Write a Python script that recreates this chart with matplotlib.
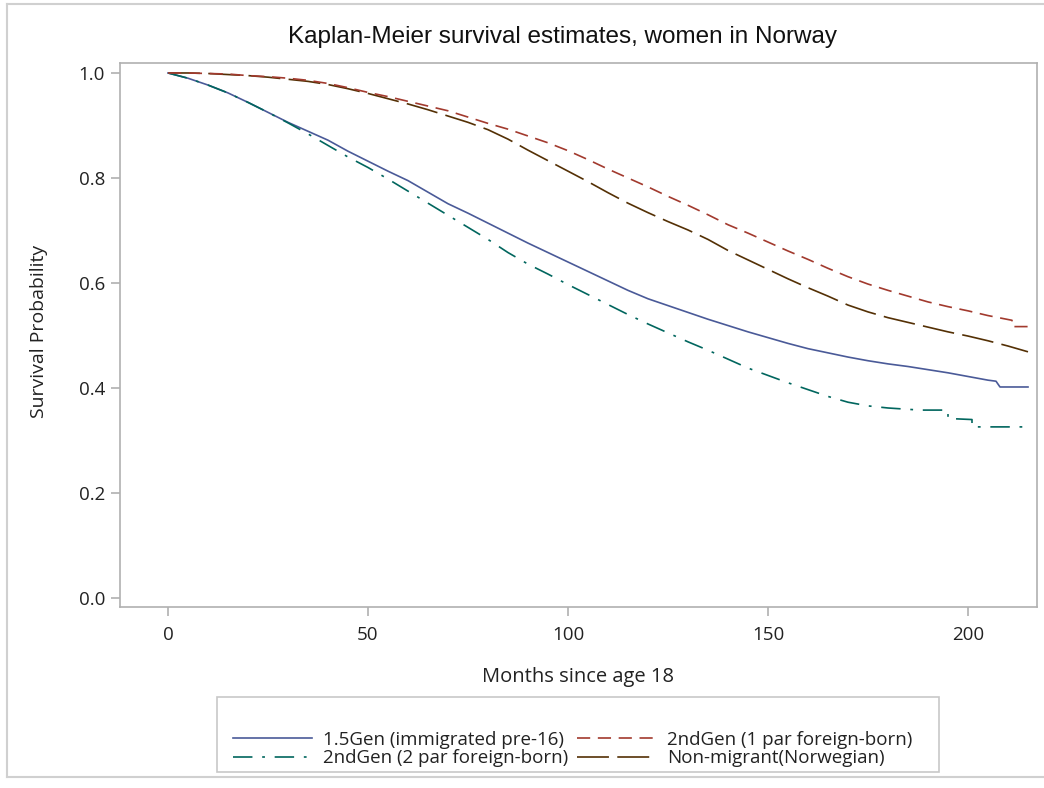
import matplotlib
matplotlib.use("Agg")
import matplotlib.pyplot as plt
from matplotlib.lines import Line2D
from matplotlib.patches import Rectangle

# Kaplan-Meier estimates (months, survival)
months_gen15 = [0, 5, 10, 15, 20, 25, 30, 35, 40, 45, 50, 55, 60, 65, 70, 75, 80,
                85, 90, 95, 100, 105, 110, 115, 120, 125, 130, 135, 140, 145, 150,
                155, 160, 165, 170, 175, 180, 185, 190, 195, 200, 205, 207, 208, 215]
surv_gen15 = [1.000, 0.990, 0.977, 0.962, 0.944, 0.925, 0.906, 0.889, 0.872, 0.851,
              0.832, 0.813, 0.795, 0.773, 0.751, 0.733, 0.714, 0.695, 0.676, 0.658,
              0.640, 0.622, 0.604, 0.586, 0.570, 0.557, 0.544, 0.531, 0.519, 0.507,
              0.496, 0.485, 0.475, 0.467, 0.459, 0.452, 0.446, 0.441, 0.435, 0.429,
              0.422, 0.415, 0.413, 0.402, 0.402]

months_gen2_one = [0, 5, 10, 15, 20, 25, 30, 35, 40, 45, 50, 55, 60, 65, 70, 75, 80,
                   85, 90, 95, 100, 105, 110, 115, 120, 125, 130, 135, 140, 145, 150,
                   155, 160, 165, 170, 175, 180, 185, 190, 195, 200, 205, 211, 211, 215]
surv_gen2_one = [1.000, 1.000, 0.999, 0.998, 0.995, 0.993, 0.990, 0.986, 0.980, 0.972,
                 0.963, 0.955, 0.946, 0.937, 0.928, 0.916, 0.904, 0.893, 0.880, 0.867,
                 0.852, 0.835, 0.817, 0.800, 0.783, 0.765, 0.748, 0.730, 0.711, 0.695,
                 0.678, 0.661, 0.645, 0.628, 0.612, 0.598, 0.586, 0.575, 0.564, 0.555,
                 0.547, 0.538, 0.529, 0.517, 0.517]

months_gen2_two = [0, 5, 10, 15, 20, 25, 30, 35, 40, 45, 50, 55, 60, 65, 70, 75, 80,
                   85, 90, 95, 100, 105, 110, 115, 120, 125, 130, 135, 140, 145, 150,
                   155, 160, 165, 170, 175, 180, 188, 195, 195, 201, 201, 215]
surv_gen2_two = [1.000, 0.990, 0.977, 0.962, 0.944, 0.925, 0.905, 0.884, 0.862, 0.840,
                 0.820, 0.798, 0.775, 0.752, 0.729, 0.706, 0.683, 0.658, 0.636, 0.617,
                 0.597, 0.578, 0.559, 0.540, 0.522, 0.505, 0.488, 0.472, 0.455, 0.438,
                 0.424, 0.410, 0.397, 0.384, 0.373, 0.366, 0.362, 0.358, 0.358, 0.342,
                 0.340, 0.326, 0.326]

months_native = [0, 5, 10, 15, 20, 25, 30, 35, 40, 45, 50, 55, 60, 65, 70, 75, 80,
                 85, 90, 95, 100, 105, 110, 115, 120, 125, 130, 135, 140, 145, 150,
                 155, 160, 165, 170, 175, 180, 185, 190, 195, 200, 205, 210, 215]
surv_native = [1.000, 1.000, 0.999, 0.997, 0.995, 0.992, 0.988, 0.984, 0.978, 0.970,
               0.961, 0.951, 0.941, 0.930, 0.918, 0.906, 0.892, 0.874, 0.853, 0.833,
               0.813, 0.793, 0.772, 0.752, 0.734, 0.717, 0.701, 0.683, 0.662, 0.644,
               0.626, 0.608, 0.591, 0.575, 0.558, 0.545, 0.534, 0.525, 0.516, 0.507,
               0.499, 0.490, 0.480, 0.469]

labels = ["1.5Gen (immigrated pre-16)", "2ndGen (1 par foreign-born)",
          "2ndGen (2 par foreign-born)", "Non-migrant(Norwegian)"]
colors = ["#4a5a98", "#A23A2E", "#01665E", "#543005"]
dashes = ["-", (0, (9.5, 5.5)), (0, (14, 7, 2, 7)), (0, (23, 6))]

W, H = 1044, 788
plt.rcParams["lines.scale_dashes"] = False
plt.rcParams["font.family"] = ["Open Sans", "DejaVu Sans"]

fig = plt.figure(figsize=(W / 100, H / 100), dpi=100)
ax = fig.add_axes([120 / W, 1 - 607 / H, (1037 - 120) / W, (607 - 63) / H])

series = [(months_gen15, surv_gen15), (months_gen2_one, surv_gen2_one),
          (months_gen2_two, surv_gen2_two), (months_native, surv_native)]
# draw order: native first so the others sit on top
for i in [3, 0, 2, 1]:
    m, s = series[i]
    ax.plot(m, s, color=colors[i], linestyle=dashes[i], linewidth=1.2)

ax.set_xlim(-12, 217.25)
ax.set_ylim(-0.017, 1.019)
ax.set_xticks([0, 50, 100, 150, 200])
ax.set_yticks([0.0, 0.2, 0.4, 0.6, 0.8, 1.0])
ax.set_yticklabels(["0.0", "0.2", "0.4", "0.6", "0.8", "1.0"])
for sp in ax.spines.values():
    sp.set_color("#b0b0b0")
    sp.set_linewidth(1.2)
ax.tick_params(axis="both", colors="#b0b0b0", labelcolor="#222222",
               labelsize=13.5, length=6.5, width=1.2)
ax.tick_params(axis="x", pad=7)
ax.tick_params(axis="y", pad=4.3)

fig.text(563 / W, 1 - 37 / H, "Kaplan-Meier survival estimates, women in Norway",
         ha="center", va="center", fontsize=17.5, family="Liberation Sans",
         color="#111111")
fig.text(578 / W, 1 - 682 / H, "Months since age 18", ha="center", va="baseline",
         fontsize=14.5, color="#222222")
fig.text(39 / W, 1 - 331 / H, "Survival Probability", ha="center", va="center",
         rotation=90, fontsize=14, color="#222222")

# legend frame and entries
fig.patches.append(Rectangle((217 / W, 1 - 772 / H), (939 - 217) / W, (772 - 697) / H,
                             transform=fig.transFigure, fill=False,
                             edgecolor="#c8c8c8", linewidth=1.2))
handles = [Line2D([], [], color=c, linestyle=d, linewidth=1.2)
           for c, d in zip(colors, dashes)]
order = [0, 2, 1, 3]
fig.legend([handles[i] for i in order], [labels[i] for i in order], ncol=2,
           loc="center", bbox_to_anchor=(573 / W, 1 - 749 / H), frameon=False,
           fontsize=13.5, handlelength=4.2, handletextpad=0.6, columnspacing=0.45,
           labelspacing=0.05, borderpad=0, labelcolor="#222222")

# light outer border of the screenshot (left, top and bottom edges only)
border = dict(transform=fig.transFigure, color="#d0d0d0", linewidth=1.5)
fig.lines.append(Line2D([7 / W, 7 / W], [1 - 4 / H, 1 - 777 / H], **border))
fig.lines.append(Line2D([7 / W, 1.0], [1 - 4 / H, 1 - 4 / H], **border))
fig.lines.append(Line2D([7 / W, 1.0], [1 - 777 / H, 1 - 777 / H], **border))

fig.savefig("out.png", dpi=100)
